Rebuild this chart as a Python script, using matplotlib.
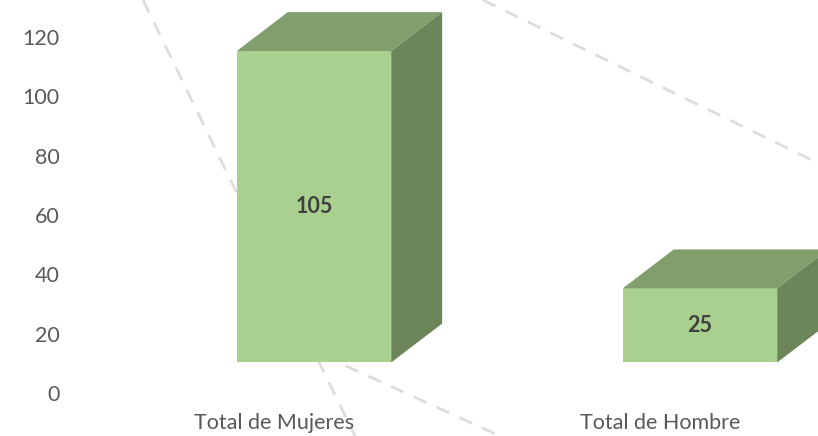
import matplotlib; matplotlib.use("Agg")
import matplotlib.pyplot as plt
from matplotlib.patches import Polygon

categories = ["Total de Mujeres", "Total de Hombre"]
values = [105, 25]
yticks = [0, 20, 40, 60, 80, 100, 120]

# excel-ish 3d look
FRONT, TOP, SIDE = "#A9D08E", "#809F6C", "#6C865A"
base, width, dx, dy = 10.3, 0.40, 0.132, 13.1
FONT = "Lato"; FS = 15.5

W, H = 818, 436
fig = plt.figure(figsize=(W/100, H/100), dpi=100)
ax = fig.add_axes([68/W, 0, 1-68/W, 1])
ax.set_xlim((68-314)/386, (818-314)/386)
ax.set_ylim(-14.5, 132.5)
for s in ax.spines.values(): s.set_visible(False)
ax.set_xticks([])
ax.set_yticks(yticks)
ax.set_yticklabels([str(t) for t in yticks], family=FONT, fontsize=FS, color="#595959")
ax.tick_params(axis="y", length=0, pad=6)

# decorative dashed lines in the background (pixel coords)
for (x0, y0), (x1, y1) in [((143, 0), (355, 436)), ((483, 0), (818, 163)), ((300, 345), (500, 436))]:
    ax.plot([x0/W, x1/W], [1-y0/H, 1-y1/H], transform=fig.transFigure, clip_on=False,
            color="#DDDDDD", lw=2, ls=(0, (5, 4)), zorder=1)

for i, (cat, v) in enumerate(zip(categories, values)):
    x0, x1, top = i - width/2, i + width/2, base + v
    ax.add_patch(Polygon([(x0, base), (x1, base), (x1, top), (x0, top)], closed=True, fc=FRONT, lw=0, zorder=3))
    ax.add_patch(Polygon([(x0, top), (x1, top), (x1+dx, top+dy), (x0+dx, top+dy)], closed=True, fc=TOP, lw=0, zorder=3))
    ax.add_patch(Polygon([(x1, base), (x1+dx, base+dy), (x1+dx, top+dy), (x1, top)], closed=True, fc=SIDE, lw=0, zorder=3))
    ax.text(i, base + v/2, str(v), ha="center", va="center", family=FONT, fontsize=FS,
            fontweight="bold", color="#404040", zorder=4)
    ax.text(i - 0.104, -10.1, cat, ha="center", va="center", family=FONT, fontsize=FS, color="#595959")

fig.savefig("out.png", dpi=100)
